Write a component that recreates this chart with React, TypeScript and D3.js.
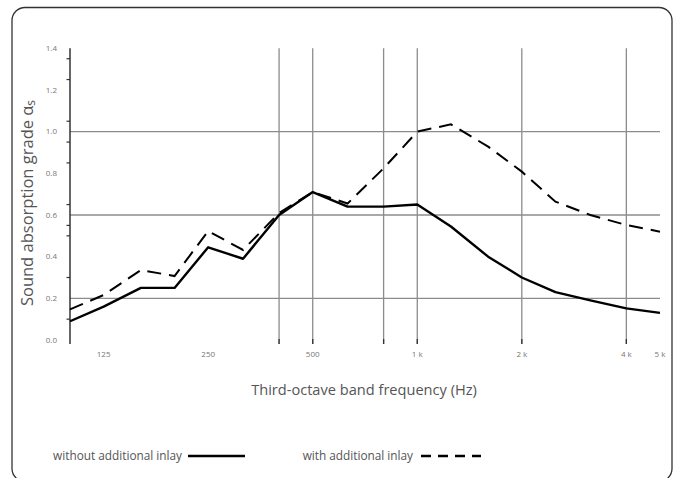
import React from 'react';
import * as d3 from 'd3';

// third-octave band centre frequencies (Hz)
const freqs = [100, 125, 160, 200, 250, 315, 400, 500, 630, 800, 1000, 1250, 1600, 2000, 2500, 3150, 4000, 5000];
const withoutInlay = [0.09, 0.16, 0.25, 0.25, 0.445, 0.39, 0.6, 0.71, 0.64, 0.64, 0.65, 0.545, 0.4, 0.3, 0.23, 0.19, 0.152, 0.13];
const withInlay = [0.147, 0.216, 0.336, 0.307, 0.523, 0.432, 0.61, 0.71, 0.655, 0.824, 1.0, 1.035, 0.928, 0.808, 0.664, 0.6, 0.552, 0.52];

const xTickFreqs = [125, 250, 500, 1000, 2000, 4000, 5000];
const xTickLabels = ['125', '250', '500', '1 k', '2 k', '4 k', '5 k'];
const xGridFreqs = [400, 500, 800, 1000, 2000, 4000];
const yTicks = [0, 0.2, 0.4, 0.6, 0.8, 1.0, 1.2, 1.4];
const yGrid = [0.2, 0.6, 1.0];
const yMinorTicks = [1.35, 1.25, 1.05, 0.95, 0.85, 0.65, 0.55, 0.5, 0.3, 0.1];

const W = 676;
const H = 478;
const font = '"Open Sans", "Noto Sans", sans-serif';

export default function App() {
  const x = d3.scaleLog().domain([100, 5000]).range([70, 660]);
  const y = d3.scaleLinear().domain([0, 1.4]).range([340, 48.3]);

  const line = d3.line<number>()
    .x((d, i) => x(freqs[i]))
    .y((d) => y(d));

  const gridColor = '#8c8c8c';
  const textColor = '#555';

  return (
    <svg width={W} height={H} style={{ position: 'absolute', left: 0, top: 0, background: '#fff' }}>
      {/* frame */}
      <rect x={12} y={7.5} width={660} height={474} rx={13} fill="none" stroke="#333" strokeWidth={1.3} />

      {/* horizontal grid */}
      {yGrid.map((v) => (
        <line key={'hg' + v} x1={70} x2={660} y1={y(v)} y2={y(v)} stroke={gridColor} strokeWidth={1.3} />
      ))}
      {/* vertical grid */}
      {xGridFreqs.map((f) => (
        <line key={'vg' + f} x1={x(f)} x2={x(f)} y1={48.3} y2={344} stroke={gridColor} strokeWidth={1.3} />
      ))}
      {xGridFreqs.map((f) => (
        <line key={'vt' + f} x1={x(f)} x2={x(f)} y1={339} y2={344} stroke="#333" strokeWidth={1.3} />
      ))}

      {/* y axis */}
      <line x1={70} x2={70} y1={48.3} y2={344} stroke="#333" strokeWidth={1.5} />
      {yMinorTicks.map((v) => (
        <line key={'mt' + v} x1={66.5} x2={70} y1={y(v)} y2={y(v)} stroke="#333" strokeWidth={1.2} />
      ))}
      {yTicks.map((v) => (
        <text key={'yl' + v} x={57} y={y(v)} dy="0.35em" textAnchor="end" fontSize={8} fill="#777" fontFamily={font}>
          {v.toFixed(1)}
        </text>
      ))}

      {/* x tick labels */}
      {xTickFreqs.map((f, i) => (
        <text key={'xl' + f} x={x(f)} y={357} textAnchor="middle" fontSize={8} fill="#777" fontFamily={font}>
          {xTickLabels[i]}
        </text>
      ))}

      {/* series */}
      <path d={line(withInlay) || ''} fill="none" stroke="#000" strokeWidth={2} strokeDasharray="14 8" />
      <path d={line(withoutInlay) || ''} fill="none" stroke="#000" strokeWidth={2.4} strokeLinejoin="round" />

      {/* axis titles */}
      <text x={364} y={395} textAnchor="middle" fontSize={14.6} fill={textColor} fontFamily={font}>
        Third-octave band frequency (Hz)
      </text>
      <text transform="translate(33,203) rotate(-90)" textAnchor="middle" fontSize={16.5} fill={textColor} fontFamily={font}>
        Sound absorption grade α<tspan fontSize={12} dy={2}>s</tspan>
      </text>

      {/* legend */}
      <text x={182} y={460} textAnchor="end" fontSize={11.8} fill={textColor} fontFamily={font}>
        without additional inlay
      </text>
      <line x1={188} x2={245} y1={456} y2={456} stroke="#000" strokeWidth={2.5} />
      <text x={413} y={460} textAnchor="end" fontSize={11.8} fill={textColor} fontFamily={font}>
        with additional inlay
      </text>
      <line x1={421} x2={481} y1={456} y2={456} stroke="#000" strokeWidth={2.5} strokeDasharray="10 7" />
    </svg>
  );
}
